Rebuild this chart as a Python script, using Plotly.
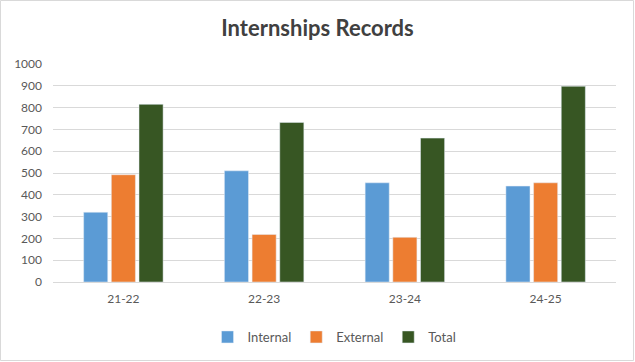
import plotly.graph_objects as go

categories = ["21-22", "22-23", "23-24", "24-25"]
internal = [320, 510, 455, 440]
external = [492, 218, 205, 455]
total = [815, 732, 660, 898]
y_ticks = list(range(0, 1001, 100))

W, H = 635, 362
ml, mr, mt, mb = 53, 19, 64, 80
pw, ph = W - ml - mr, H - mt - mb

font = "Lato, Open Sans, sans-serif"
fig = go.Figure()
fig.add_bar(name="Internal", x=categories, y=internal, marker_color="#5B9BD5")
fig.add_bar(name="External", x=categories, y=external, marker_color="#ED7D31")
fig.add_bar(name="Total", x=categories, y=total, marker_color="#375623")

fig.update_layout(
    width=W, height=H,
    margin=dict(l=ml, r=mr, t=mt, b=mb, autoexpand=False),
    paper_bgcolor="white", plot_bgcolor="white",
    barmode="group", bargap=0.41, bargroupgap=0.13,
    title=dict(text="<b>Internships Records</b>", x=0.5, xanchor="center",
               y=1 - 28 / H, yanchor="middle",
               font=dict(family=font, size=22, color="#404040")),
    font=dict(family=font, size=12, color="#595959"),
    xaxis=dict(showgrid=False, showline=True, linecolor="#D9D9D9", linewidth=1,
               ticks="", automargin=False, ticklabelstandoff=6,
               tickfont=dict(size=12, color="#595959")),
    yaxis=dict(range=[0, 1000], tickvals=y_ticks, showgrid=True,
               gridcolor="#D9D9D9", gridwidth=1, zeroline=False,
               ticks="", automargin=False, ticklabelstandoff=10,
               tickfont=dict(size=12, color="#595959")),
    legend=dict(orientation="h", x=0.5, xanchor="center",
                y=-(337 - 282) / ph, yanchor="middle",
                font=dict(size=13, color="#595959"),
                traceorder="normal"),
    shapes=[dict(type="rect", xref="paper", yref="paper",
                 x0=-(ml - 0.5) / pw, x1=(W - ml - 1.5) / pw,
                 y0=-(mb - 1.5) / ph, y1=1 + (mt - 0.5) / ph,
                 line=dict(color="#D9D9D9", width=1), layer="below")],
)

fig.write_html("out.html", config={"displayModeBar": False},
               post_script="document.body.style.margin='0';document.body.style.overflow='hidden';")
